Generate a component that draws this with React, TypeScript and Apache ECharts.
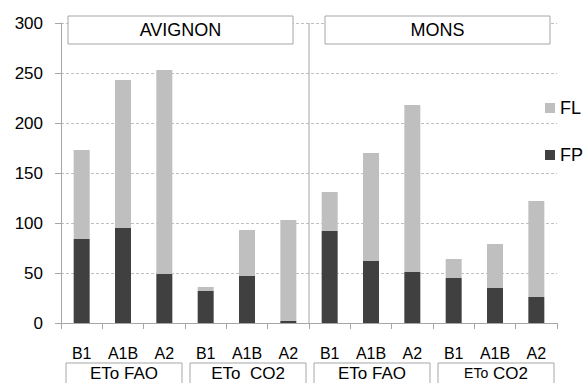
import React, { useEffect, useRef } from "react";
import * as echarts from "echarts";

const categories = ["B1", "A1B", "A2", "B1", "A1B", "A2", "B1", "A1B", "A2", "B1", "A1B", "A2"];
const fpValues = [84, 95, 49, 32, 47, 2, 92, 62, 51, 45, 35, 26];
const totalValues = [173, 243, 253, 36, 93, 103, 131, 170, 218, 64, 79, 122];
const flValues = totalValues.map((t, i) => t - fpValues[i]);
const yTicks = [0, 50, 100, 150, 200, 250, 300];
const sites = ["AVIGNON", "MONS"];
const groups = ["ETo FAO", "ETo  CO2", "ETo FAO", "{s|ETo} CO2"];

const LIGHT = "#bfbfbf";
const DARK = "#404040";
const FONT = "'Liberation Sans', Arial, sans-serif";

export default function App() {
  const ref = useRef<HTMLDivElement>(null);
  useEffect(() => {
    if (!ref.current) return;
    const chart = echarts.init(ref.current, undefined, { renderer: "svg" });
    const option: any = {
      animation: false,
      textStyle: { fontFamily: FONT },
      grid: { left: 61, right: 26, top: 23, bottom: 60 },
      legend: {
        orient: "vertical",
        left: 540,
        top: 94,
        itemWidth: 10,
        itemHeight: 10,
        itemGap: 29,
        itemTextGap: 5,
        icon: "rect",
        data: ["FL", "FP"],
        textStyle: { fontSize: 18, color: "#000", fontFamily: FONT },
      },
      xAxis: {
        type: "category",
        data: categories,
        axisLine: { lineStyle: { color: "#a6a6a6", width: 1 } },
        axisTick: { show: true, length: 6, lineStyle: { color: "#a6a6a6" } },
        axisLabel: { fontSize: 16, color: "#000", margin: 22, fontFamily: FONT },
      },
      yAxis: {
        type: "value",
        min: yTicks[0],
        max: yTicks[yTicks.length - 1],
        interval: 50,
        axisLine: { show: true, lineStyle: { color: "#a6a6a6" } },
        axisTick: { show: true, length: 6, lineStyle: { color: "#a6a6a6" } },
        axisLabel: { fontSize: 17, color: "#000", margin: 18, fontFamily: FONT },
        splitLine: { show: true, lineStyle: { color: "#c0c0c0", type: [3, 2], width: 1 } },
      },
      series: [
        {
          name: "FP",
          type: "bar",
          stack: "t",
          data: fpValues,
          barWidth: 16,
          itemStyle: { color: DARK },
        },
        {
          name: "FL",
          type: "bar",
          stack: "t",
          data: flValues,
          barWidth: 16,
          itemStyle: { color: LIGHT },
        },
      ],
    };
    chart.setOption(option);

    const x0 = chart.convertToPixel({ xAxisIndex: 0 }, 0) as number;
    const x1 = chart.convertToPixel({ xAxisIndex: 0 }, 1) as number;
    const step = x1 - x0;
    const left = x0 - step / 2;
    const yTop = chart.convertToPixel({ yAxisIndex: 0 }, 300) as number;
    const yZero = chart.convertToPixel({ yAxisIndex: 0 }, 0) as number;
    const elements: any[] = [];
    const siteW = step * 6;
    const siteInset = [7, 16];
    sites.forEach((s, i) => {
      const bx = left + i * siteW + siteInset[i];
      const bw = 225;
      elements.push({
        type: "rect",
        shape: { x: bx, y: 16, width: bw, height: 28 },
        style: { fill: "#fff", stroke: "#a6a6a6", lineWidth: 1 },
        z: 10,
      });
      elements.push({
        type: "text",
        x: bx + bw / 2,
        y: 30,
        style: { text: s, fontSize: 18, fill: "#000", align: "center", verticalAlign: "middle", fontFamily: FONT },
        z: 11,
      });
    });
    elements.push({
      type: "line",
      shape: { x1: left + siteW, y1: yTop, x2: left + siteW, y2: yZero },
      style: { stroke: "#a6a6a6", lineWidth: 1 },
      z: 9,
    });
    const gW = step * 3;
    groups.forEach((g, i) => {
      const bx = left + i * gW + 5;
      const bw = gW - 8;
      elements.push({
        type: "rect",
        shape: { x: bx, y: 363, width: bw, height: 30 },
        style: { fill: "#fff", stroke: "#a6a6a6", lineWidth: 1 },
        z: 10,
      });
      elements.push({
        type: "text",
        x: bx + bw / 2,
        y: 373,
        style: {
          text: g,
          fontSize: 17,
          fill: "#000",
          align: "center",
          verticalAlign: "middle",
          fontFamily: FONT,
          rich: { s: { fontSize: 14, fontFamily: FONT, fill: "#000" } },
        },
        z: 11,
      });
    });
    chart.setOption({ graphic: { elements } });

    return () => chart.dispose();
  }, []);
  return <div ref={ref} style={{ width: 583, height: 383, position: "absolute", left: 0, top: 0 }} />;
}
